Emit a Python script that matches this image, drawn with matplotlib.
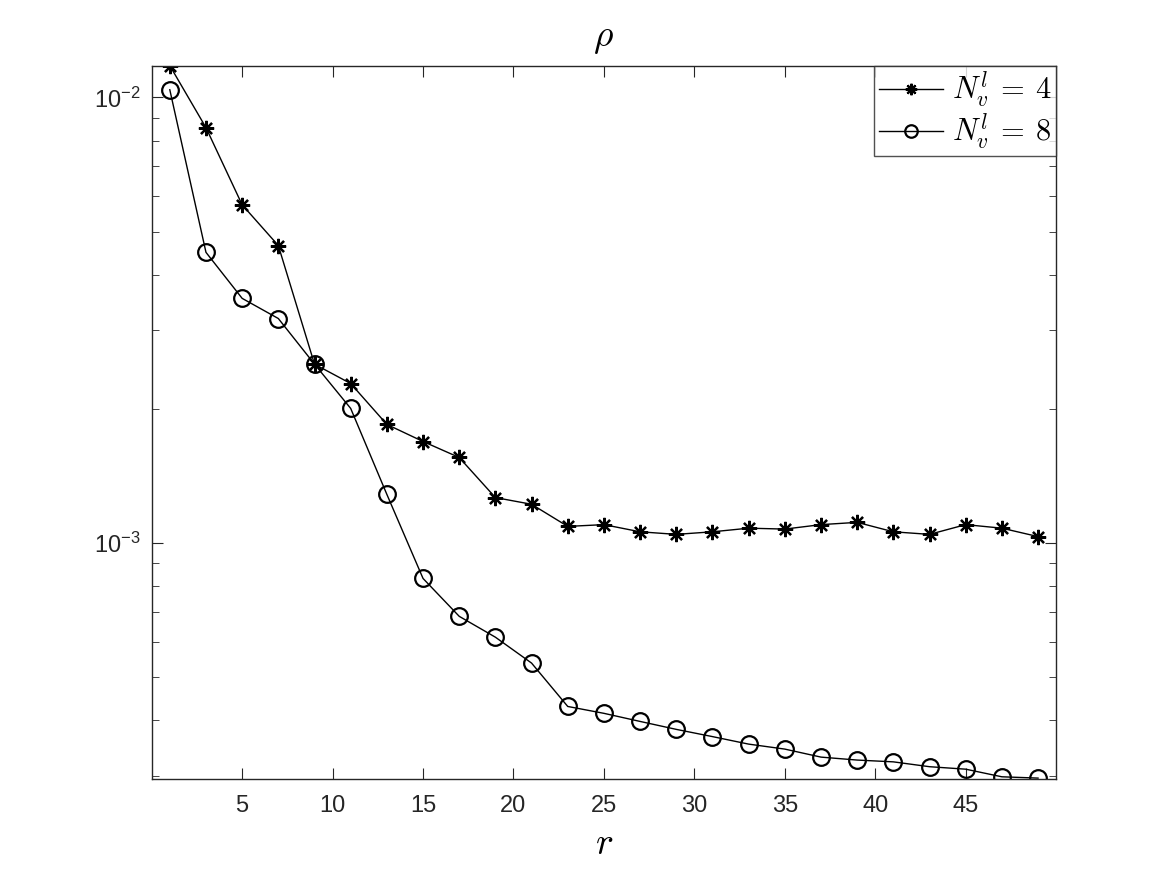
import matplotlib
matplotlib.use("Agg")
import matplotlib.pyplot as plt
from matplotlib.ticker import FixedLocator, FixedFormatter

plt.rcParams['font.family'] = ['Liberation Sans', 'DejaVu Sans']
plt.rcParams['mathtext.fontset'] = 'cm'

r = list(range(1, 50, 2))
rho_n4 = [0.01178, 0.00855, 0.00574, 0.00465, 0.00252, 0.00228, 0.001846, 0.00169,
          0.001556, 0.001265, 0.001222, 0.00109, 0.0011, 0.00106, 0.001046, 0.00106,
          0.00108, 0.001075, 0.0011, 0.001113, 0.00106, 0.001046, 0.0011, 0.00108,
          0.001034]
rho_n8 = [0.0104, 0.00449, 0.00354, 0.00319, 0.00252, 0.002005, 0.001286, 0.000833,
          0.000685, 0.000615, 0.000538, 0.000430, 0.000415, 0.000398, 0.000382,
          0.000368, 0.000354, 0.000345, 0.000331, 0.000326, 0.000323, 0.000315,
          0.000311, 0.000299, 0.000297]
xticks = [5, 10, 15, 20, 25, 30, 35, 40, 45]
yticks = [1e-3, 1e-2]
ylabels = [r'$\mathregular{10^{-3}}$', r'$\mathregular{10^{-2}}$']

fig = plt.figure(figsize=(11.67, 8.75), dpi=100)
ax = fig.add_axes([0.13, 0.11, 0.775, 0.815])

ax.plot(r, rho_n4, color='k', lw=1, marker=(8, 2, 0), ms=11, mew=1.6,
        label=r'$N_v^l\:=\:4$')
ax.plot(r, rho_n8, color='k', lw=1, marker='o', ms=12, mfc='none', mew=1.6,
        label=r'$N_v^l\:=\:8$')

ax.set_yscale('log')
ax.set_xlim(0, 50)
ax.set_ylim(2.96e-4, 1.178e-2)
ax.set_xticks(xticks)
ax.yaxis.set_major_locator(FixedLocator(yticks))
ax.yaxis.set_major_formatter(FixedFormatter(ylabels))

axcol = '#262626'
for s in ax.spines.values():
    s.set_color(axcol)
    s.set_linewidth(1)
ax.tick_params(which='both', direction='in', top=True, right=True,
               colors=axcol, labelsize=17)
ax.tick_params(which='major', length=8)
ax.tick_params(which='minor', length=5, labelleft=False)
ax.tick_params(axis='x', which='minor', bottom=False, top=False)
ax.tick_params(axis='x', which='major', pad=12)
ax.tick_params(axis='y', which='major', pad=8)

ax.set_title(r'$\rho$', fontsize=27, pad=14)
ax.set_xlabel(r'$r$', fontsize=27, labelpad=6)

leg = ax.legend(loc='upper right', fontsize=22, frameon=True, fancybox=False,
                borderaxespad=0, handlelength=2.1, borderpad=0.15,
                labelspacing=0.05, handletextpad=0.3, markerscale=0.75)
leg.get_frame().set_edgecolor(axcol)
leg.get_frame().set_linewidth(1)

fig.savefig('out.png', dpi=100)
